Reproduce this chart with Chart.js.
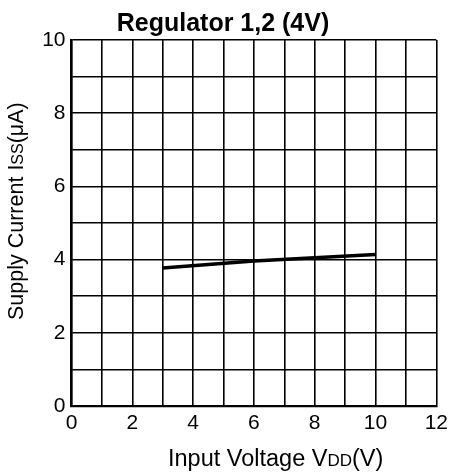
<!DOCTYPE html>
<html lang="en">
<head>
  <meta charset="UTF-8">
  <title>Regulator 1,2 (4V)</title>
  <style>
    body { margin: 0; background: #fff; }
    .chart-container { width: 453px; height: 475px; }
  </style>
  <script src="https://cdn.jsdelivr.net/npm/chart.js"></script>
</head>
<body>
  <div class="chart-container">
    <canvas id="regChart"></canvas>
  </div>

  <script>
    // Values
    const inputVoltage = [3, 6, 10];          // V
    const supplyCurrent = [3.77, 3.96, 4.14]; // uA
    const xTicks = [0, 2, 4, 6, 8, 10, 12];
    const yTicks = [0, 2, 4, 6, 8, 10];

    const chartTitle = 'Regulator 1,2 (4V)';
    // axis titles: [normal, small caps part, normal]
    const xTitleParts = ['Input Voltage V', 'DD', '(V)'];
    const yTitleParts = ['Supply Current I', 'SS', '(\u03bcA)'];

    const font = "'Liberation Sans', Arial, sans-serif";

    // draws a label with a smaller middle part, starting at (0,0) baseline
    function drawParts(ctx, parts, big, small) {
      let x = 0;
      parts.forEach((p, i) => {
        ctx.font = (i === 1 ? small : big) + 'px ' + font;
        ctx.fillText(p, x, 0);
        x += ctx.measureText(p).width;
      });
    }

    const titlesPlugin = {
      id: 'titles',
      afterDraw(chart) {
        const ctx = chart.ctx;
        ctx.save();
        ctx.fillStyle = '#000';
        ctx.textBaseline = 'alphabetic';

        // chart title
        ctx.font = 'bold 25px ' + font;
        ctx.textAlign = 'center';
        ctx.fillText(chartTitle, 223, 31);

        ctx.textAlign = 'left';
        // x axis title
        ctx.save();
        ctx.translate(168, 466);
        drawParts(ctx, xTitleParts, 23.5, 17);
        ctx.restore();

        // y axis title, rotated
        ctx.save();
        ctx.translate(23, 320);
        ctx.rotate(-Math.PI / 2);
        drawParts(ctx, yTitleParts, 21.5, 16);
        ctx.restore();

        ctx.restore();
      }
    };

    new Chart(document.getElementById('regChart'), {
      type: 'line',
      data: {
        datasets: [{
          data: inputVoltage.map((v, i) => ({ x: v, y: supplyCurrent[i] })),
          borderColor: '#000',
          borderWidth: 3.5,
          pointRadius: 0,
          tension: 0,
          fill: false
        }]
      },
      options: {
        responsive: true,
        maintainAspectRatio: false,
        animation: false,
        layout: { padding: { left: 0, right: 15.5, top: 40, bottom: 0 } },
        plugins: {
          legend: { display: false },
          tooltip: { enabled: false },
          title: { display: false }
        },
        scales: {
          x: {
            type: 'linear',
            min: 0,
            max: 12,
            ticks: {
              stepSize: 1,
              color: '#000',
              font: { family: font, size: 21 },
              padding: 5,
              maxRotation: 0,
              autoSkip: false,
              callback: v => xTicks.includes(v) ? v : ''
            },
            grid: { color: '#000', lineWidth: 1.6, drawTicks: false },
            border: { color: '#000', width: 2.2 },
            afterFit: s => { s.height = 69; }
          },
          y: {
            min: 0,
            max: 10,
            ticks: {
              stepSize: 1,
              color: '#000',
              font: { family: font, size: 21 },
              padding: 6,
              autoSkip: false,
              callback: v => yTicks.includes(v) ? v : ''
            },
            grid: { color: '#000', lineWidth: 1.6, drawTicks: false },
            border: { color: '#000', width: 2.2 },
            afterFit: s => { s.width = 71.5; }
          }
        }
      },
      plugins: [titlesPlugin]
    });
  </script>
</body>
</html>
